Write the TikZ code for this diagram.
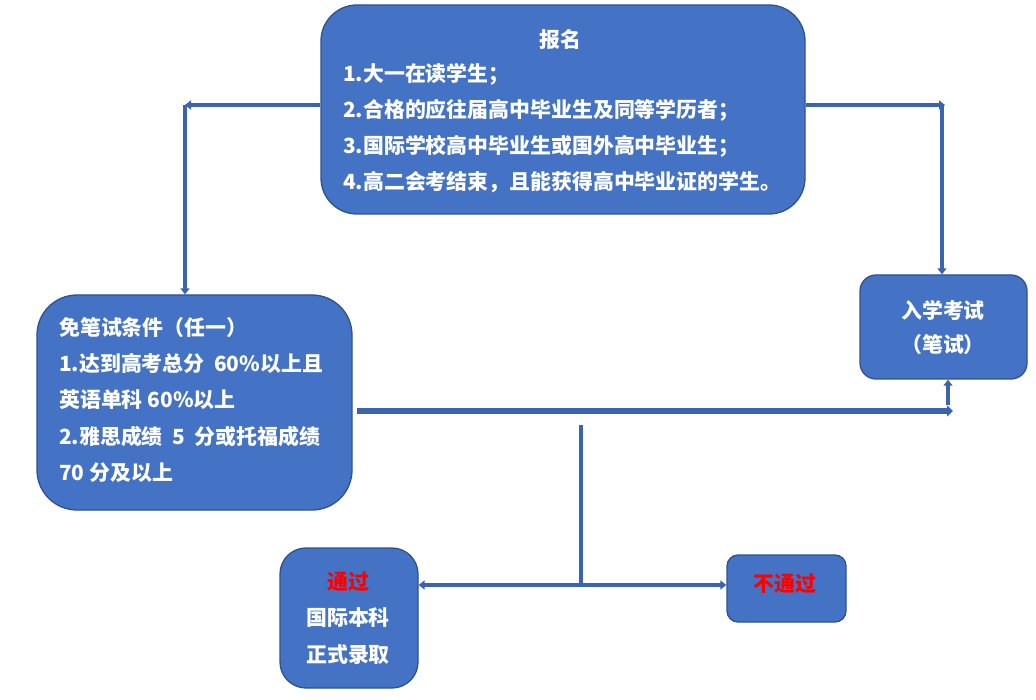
\documentclass[tikz,border=0pt]{standalone}
\usepackage{fontspec}
\newfontfamily\cjk{Noto Sans CJK SC}
\usetikzlibrary{arrows.meta}
\definecolor{boxfill}{HTML}{4472C4}
\definecolor{boxline}{HTML}{2F528F}
\definecolor{connc}{HTML}{3A63B0}
\tikzset{
  box/.style={draw=boxline, line width=1.3pt, fill=boxfill, inner sep=0pt},
  txt/.style={text=white, font=\cjk\bfseries\fontsize{20.9}{24}\selectfont, inner sep=0pt},
  redtxt/.style={text=red, font=\cjk\bfseries\fontsize{20.9}{24}\selectfont, inner sep=0pt},
  conn/.style={draw=connc, line width=3.4pt},
  arr/.style={conn, -{Triangle[length=6pt,width=9pt]}},
}
\begin{document}
\begin{tikzpicture}[x=1pt,y=-1pt]
\useasboundingbox[fill=white] (0,0) rectangle (1036,700);
% boxes
\node[box, rounded corners=36pt, minimum width=484pt, minimum height=209pt] (top) at (563,109.5) {};
\node[box, rounded corners=40pt, minimum width=315pt, minimum height=215pt] (left) at (194.5,402.5) {};
\node[box, rounded corners=16pt, minimum width=167pt, minimum height=104pt] (right) at (943.5,327) {};
\node[box, rounded corners=26pt, minimum width=138pt, minimum height=140pt] (pass) at (349,618) {};
\node[box, rounded corners=11pt, minimum width=119pt, minimum height=67pt] (fail) at (786.5,588.5) {};
% top text
\node[txt] (t0) at (560,40) {报名};
\node[txt, anchor=west] (t1) at (343,74) {1.大一在读学生；};
\node[txt, anchor=west] (t2) at (343,110) {2.合格的应往届高中毕业生及同等学历者；};
\node[txt, anchor=west] (t3) at (343,146) {3.国际学校高中毕业生或国外高中毕业生；};
\node[txt, anchor=west] (t4) at (343,182) {4.高二会考结束，且能获得高中毕业证的学生。};
% left text
\node[txt, anchor=west] (l1) at (59,328) {免笔试条件（任一）};
\node[txt, anchor=west] (l2) at (59,364) {1.达到高考总分\ \ 60\%以上且};
\node[txt, anchor=west] (l3) at (59,400) {英语单科 60\%以上};
\node[txt, anchor=west] (l4) at (59,437) {2.雅思成绩\ \ 5\ \ 分或托福成绩};
\node[txt, anchor=west] (l5) at (59,473) {70 分及以上};
% right text
\node[txt] (r1) at (943,310) {入学考试};
\node[txt] (r2) at (943,345) {（笔试）};
% pass / fail text
\node[redtxt] (p1) at (348,582) {通过};
\node[txt] (p2) at (348,618) {国际本科};
\node[txt] (p3) at (348,655) {正式录取};
\node[redtxt] (f1) at (785,584) {不通过};
% connectors
\coordinate (tl) at (185,105);
\coordinate (tr) at (942,105);
\coordinate (ms) at (357,411);
\coordinate (me) at (953,411);
\coordinate (mu) at (948,405);
\coordinate (j0) at (581,425);
\coordinate (j) at (581,585);
\draw[arr] (top.west |- tl) -- (tl);
\draw[arr] (tl) -- (tl |- left.north);
\draw[arr] (top.east |- tr) -- ([xshift=3pt]tr);
\draw[arr] (tr) -- (tr |- right.north);
\draw[arr, line width=5.5pt, -{Triangle[length=6pt,width=11pt]}] (ms) -- (me);
\draw[arr, line width=4.2pt] (mu) -- (mu |- right.south);
\draw[conn] (j0) -- (j);
\draw[arr] (j) -- (pass.east |- j);
\draw[arr] (j) -- (fail.west |- j);
\end{tikzpicture}
\end{document}
